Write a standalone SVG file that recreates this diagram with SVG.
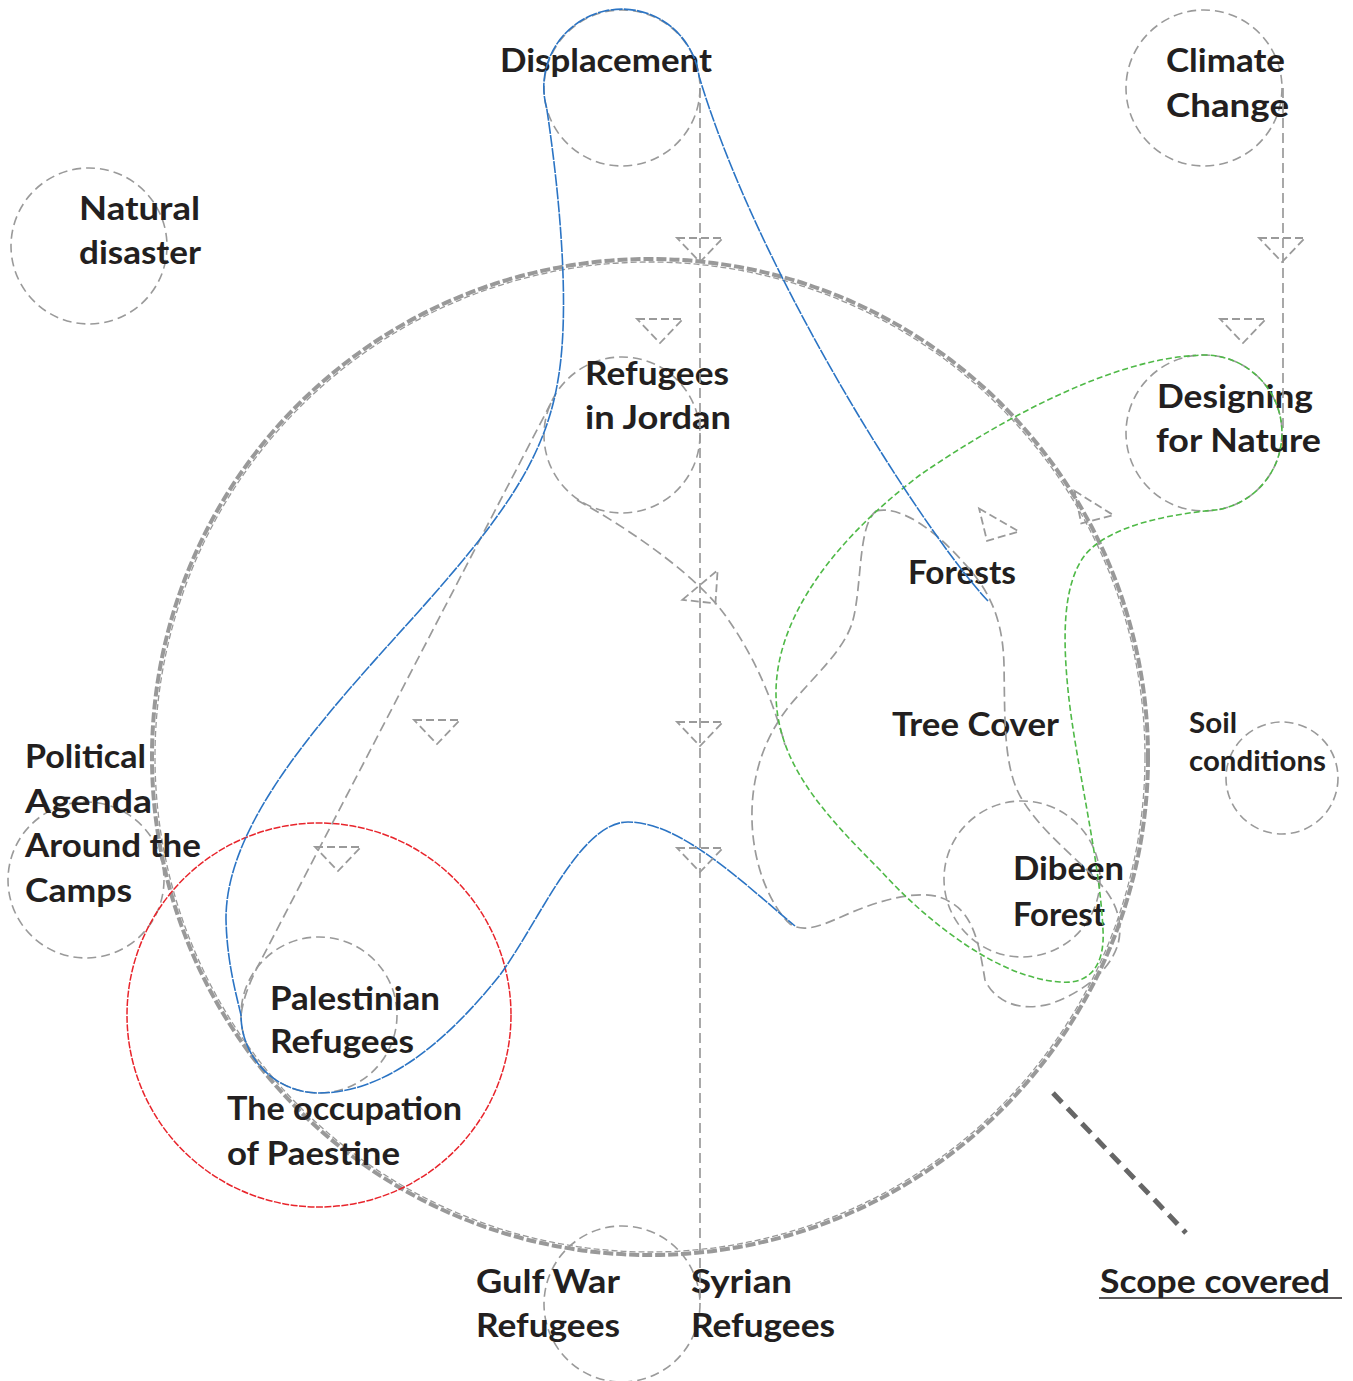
<svg xmlns="http://www.w3.org/2000/svg" xmlns:xlink="http://www.w3.org/1999/xlink" width="1353" height="1381" viewBox="0 0 1353 1381">
<style>
.bg{fill:#ffffff}
.node{fill:none;stroke:#9a9a9a;stroke-width:1.6;stroke-dasharray:9 5}
.lbl{font-family:Lato,"Noto Sans","Liberation Sans",sans-serif;font-weight:700;font-size:33px;fill:#231f20}
.sm{font-size:29px}
.gray{fill:none;stroke:#9a9a9a;stroke-width:1.7;stroke-dasharray:10 5}
.tri{fill:none;stroke:#9a9a9a;stroke-width:1.8;stroke-dasharray:8 4;stroke-linejoin:miter}
.blue{fill:none;stroke:#2b74c4;stroke-width:1.6;stroke-dasharray:12 1.2}
.green{fill:none;stroke:#4fb947;stroke-width:1.6;stroke-dasharray:6 3}
.red{fill:none;stroke:#e8242b;stroke-width:1.5;stroke-dasharray:7 1.5}
</style>
<defs>
<path id="tri" d="M -23 0 L 23 0 L 0 24 Z"/>
</defs>
<rect class="bg" x="0" y="0" width="1353" height="1381"/>

<g id="scope">
<circle cx="650" cy="757" r="498" fill="none" stroke="#999999" stroke-width="4" stroke-dasharray="10 3"/>
<circle cx="650" cy="757" r="495" fill="none" stroke="#999999" stroke-width="1.3" stroke-dasharray="6 3"/>
<line x1="1053" y1="1093" x2="1186" y2="1233" stroke="#666666" stroke-width="5" stroke-dasharray="13 8"/>
<text class="lbl" x="1100" y="1293" textLength="230" lengthAdjust="spacingAndGlyphs">Scope covered</text>
<line x1="1099" y1="1298" x2="1342" y2="1298" stroke="#231f20" stroke-width="1.6"/>
</g>

<g id="displacement">
<circle class="node" cx="622" cy="88" r="78"/>
<text class="lbl" x="500" y="72" textLength="212" lengthAdjust="spacingAndGlyphs">Displacement</text>
</g>
<g id="climate-change">
<circle class="node" cx="1204" cy="88" r="78"/>
<text class="lbl" x="1166" y="72" textLength="119" lengthAdjust="spacingAndGlyphs">Climate</text>
<text class="lbl" x="1166" y="117" textLength="123" lengthAdjust="spacingAndGlyphs">Change</text>
</g>
<g id="natural-disaster">
<circle class="node" cx="89" cy="246" r="78"/>
<text class="lbl" x="79" y="220" textLength="121" lengthAdjust="spacingAndGlyphs">Natural</text>
<text class="lbl" x="79" y="264" textLength="122" lengthAdjust="spacingAndGlyphs">disaster</text>
</g>
<g id="refugees-in-jordan">
<circle class="node" cx="622" cy="435" r="78"/>
<text class="lbl" x="585" y="385" textLength="144" lengthAdjust="spacingAndGlyphs">Refugees</text>
<text class="lbl" x="585" y="429" textLength="146" lengthAdjust="spacingAndGlyphs">in Jordan</text>
</g>
<g id="designing-for-nature">
<circle class="node" cx="1204" cy="433" r="78"/>
<text class="lbl" x="1157" y="408" textLength="156" lengthAdjust="spacingAndGlyphs">Designing</text>
<text class="lbl" x="1156" y="452" textLength="165" lengthAdjust="spacingAndGlyphs">for Nature</text>
</g>
<g id="forests">
<text class="lbl" x="908" y="584" textLength="108" lengthAdjust="spacingAndGlyphs">Forests</text>
</g>
<g id="tree-cover">
<text class="lbl" x="892" y="736" textLength="167" lengthAdjust="spacingAndGlyphs">Tree Cover</text>
</g>
<g id="soil-conditions">
<circle class="node" cx="1282" cy="778" r="56"/>
<text class="lbl sm" x="1189" y="733" textLength="48" lengthAdjust="spacingAndGlyphs">Soil</text>
<text class="lbl sm" x="1189" y="771" textLength="137" lengthAdjust="spacingAndGlyphs">conditions</text>
</g>
<g id="political-agenda">
<circle class="node" cx="86" cy="880" r="78"/>
<text class="lbl" x="25" y="768" textLength="121" lengthAdjust="spacingAndGlyphs">Political</text>
<text class="lbl" x="25" y="813" textLength="127" lengthAdjust="spacingAndGlyphs">Agenda</text>
<text class="lbl" x="25" y="857" textLength="176" lengthAdjust="spacingAndGlyphs">Around the</text>
<text class="lbl" x="25" y="902" textLength="107" lengthAdjust="spacingAndGlyphs">Camps</text>
</g>
<g id="dibeen-forest">
<circle class="node" cx="1022" cy="879" r="78"/>
<text class="lbl" x="1013" y="880" textLength="111" lengthAdjust="spacingAndGlyphs">Dibeen</text>
<text class="lbl" x="1013" y="926" textLength="92" lengthAdjust="spacingAndGlyphs">Forest</text>
</g>
<g id="palestinian-refugees">
<circle class="node" cx="319" cy="1015" r="78"/>
<text class="lbl" x="270" y="1010" textLength="170" lengthAdjust="spacingAndGlyphs">Palestinian</text>
<text class="lbl" x="270" y="1053" textLength="144" lengthAdjust="spacingAndGlyphs">Refugees</text>
</g>
<g id="occupation-of-palestine">
<circle class="red" cx="319" cy="1015" r="192"/>
<text class="lbl" x="227" y="1120" textLength="235" lengthAdjust="spacingAndGlyphs">The occupation</text>
<text class="lbl" x="227" y="1165" textLength="173" lengthAdjust="spacingAndGlyphs">of Paestine</text>
</g>
<g id="gulf-war-refugees">
<circle class="node" cx="622" cy="1304" r="78"/>
<text class="lbl" x="476" y="1293" textLength="144" lengthAdjust="spacingAndGlyphs">Gulf War</text>
<text class="lbl" x="476" y="1337" textLength="144" lengthAdjust="spacingAndGlyphs">Refugees</text>
</g>
<g id="syrian-refugees">
<text class="lbl" x="691" y="1293" textLength="101" lengthAdjust="spacingAndGlyphs">Syrian</text>
<text class="lbl" x="691" y="1337" textLength="144" lengthAdjust="spacingAndGlyphs">Refugees</text>
</g>

<g id="connectors">
<line class="gray" x1="700" y1="88" x2="700" y2="1304"/>
<line class="gray" x1="1283" y1="88" x2="1283" y2="433"/>
<path class="gray" d="M 551 403 L 258 966 Q 243 995 241 1016"/>
<path class="gray" d="M 577 500 C 640 535, 700 580, 725 615 C 750 650, 770 690, 785 745"/>
<path class="gray" d="M 876 511 C 900 505, 935 530, 963 562 C 990 590, 1003 620, 1004 665 C 1005 720, 1003 770, 1023 801 C 1045 836, 1080 860, 1103 887 C 1118 905, 1123 925, 1118 944 C 1112 965, 1090 990, 1050 1004 C 1020 1012, 995 1002, 985 980 C 980 950, 975 915, 950 902 C 930 888, 890 896, 850 913 C 825 924, 805 934, 790 924 C 770 905, 753 865, 752 820 C 751 780, 762 740, 790 705 C 815 675, 845 650, 853 620 C 862 585, 858 525, 876 511 Z"/>
<path class="green" d="M 1217.5 509.8 C 1170 514, 1110 525, 1085 555 C 1062 585, 1063 640, 1068 690 C 1075 760, 1100 860, 1103 930 C 1105 965, 1090 985, 1060 982 C 1000 978, 930 925, 880 870 C 820 810, 775 760, 776 690 C 778 600, 860 520, 920 475 C 1000 420, 1110 360, 1195 355.5 A 78 78 0 0 1 1217.5 509.8"/>
<path class="blue" d="M 988 601 C 930 540, 760 280, 699 76 A 78 78 0 1 0 546.7 108.2 C 556 170, 572 300, 558 380 C 545 460, 500 520, 420 610 C 330 710, 225 820, 226 920 C 227 960, 235 990, 241 1015 A 78 78 0 0 0 319 1093 C 380 1093, 440 1050, 500 975 C 540 920, 580 822, 628 822 C 680 822, 740 880, 795 926"/>
<use class="tri" xlink:href="#tri" transform="translate(700,238)"/>
<use class="tri" xlink:href="#tri" transform="translate(700,722)"/>
<use class="tri" xlink:href="#tri" transform="translate(700,848)"/>
<use class="tri" xlink:href="#tri" transform="translate(1282,238)"/>
<use class="tri" xlink:href="#tri" transform="translate(660,319)"/>
<use class="tri" xlink:href="#tri" transform="translate(1243,319)"/>
<use class="tri" xlink:href="#tri" transform="translate(437,720)"/>
<use class="tri" xlink:href="#tri" transform="translate(338,847)"/>
<use class="tri" xlink:href="#tri" transform="translate(700,585) rotate(-40)"/>
<use class="tri" xlink:href="#tri" transform="translate(999,520) rotate(30)"/>
<use class="tri" xlink:href="#tri" transform="translate(1094,503) rotate(32)"/>
</g>
</svg>
